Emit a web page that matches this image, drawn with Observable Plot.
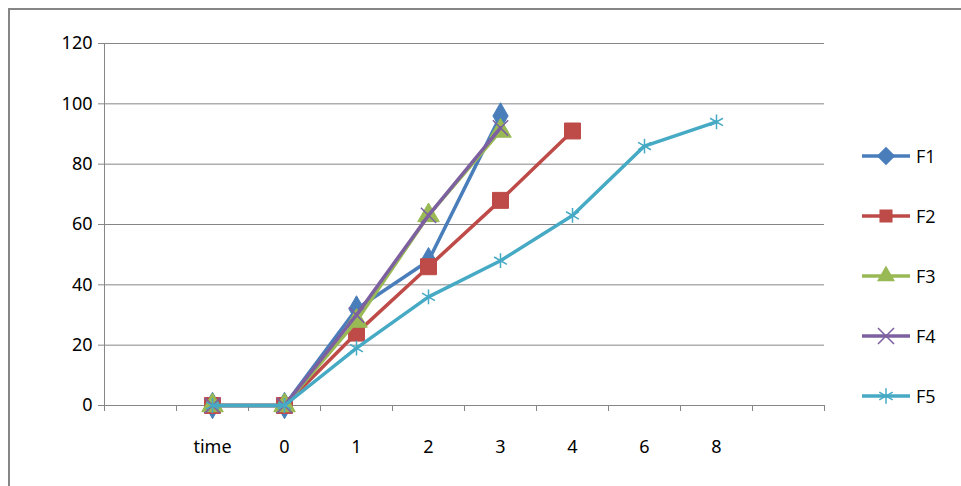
<!DOCTYPE html>
<html><head><meta charset="utf-8">
<script src="https://cdn.jsdelivr.net/npm/d3@7"></script>
<script src="https://cdn.jsdelivr.net/npm/@observablehq/plot@0.6"></script>
<style>
body{margin:0;background:#fff;font-family:"Open Sans","Liberation Sans",sans-serif;}
#wrap{position:relative;width:961px;height:486px;overflow:hidden;}
#border{position:absolute;left:8px;top:8px;width:960px;height:490px;border:2px solid #868686;box-sizing:border-box;}
#chart{position:absolute;left:0;top:0;}
#legend{position:absolute;left:860px;top:126px;font-size:18px;}
.item{display:flex;align-items:center;height:60px;}
.item span{margin-left:4px}
</style></head>
<body><div id="wrap"><div id="border"></div><div id="chart"></div><div id="legend"></div></div>
<script>
const categories = ["", "time", "0", "1", "2", "3", "4", "6", "8", ""];
const seriesNames = ["F1", "F2", "F3", "F4", "F5"];
const colors = ["#4a7ebb", "#be4b48", "#98b954", "#7d60a0", "#46aac5"];
const symbols = ["diamond", "square", "triangle", "times", "asterisk"];
const F1 = [null, 0, 0, 32, 48, 96, null, null, null, null];
const F2 = [null, 0, 0, 24, 46, 68, 91, null, null, null];
const F3 = [null, 0, 0, 28, 63, 91, null, null, null, null];
const F4 = [null, 0, 0, 30, 63, 92, null, null, null, null];
const F5 = [null, 0, 0, 19, 36, 48, 63, 86, 94, null];
const values = [F1, F2, F3, F4, F5];
const yTicks = [0, 20, 40, 60, 80, 100, 120];

const rows = [];
values.forEach((vs, s) => vs.forEach((v, i) => { if (v != null) rows.push({s: seriesNames[s], i: i + 0.5, v}); }));
const edges = d3.range(categories.length + 1);
const labels = categories.map((c, i) => ({i: i + 0.5, c})).filter(d => d.c);
const radii = [8, 9, 8, 7, 7];

const marks = [
  Plot.gridY(yTicks, {stroke: "#868686", strokeOpacity: 1}),
  Plot.ruleX([0], {stroke: "#868686"}),
  Plot.ruleY([0], {stroke: "#868686"}),
  Plot.axisY(yTicks, {tickSize: 6, tickPadding: 6, fontSize: 18, stroke: "#868686", fill: "black", label: null}),
  Plot.axisX(edges, {tickSize: 6, tickFormat: () => "", stroke: "#868686", label: null}),
  Plot.text(labels, {x: "i", y: 0, text: "c", dy: 42, fontSize: 18, fill: "black"})
];
seriesNames.forEach((name, s) => {
  const d = rows.filter(r => r.s === name);
  marks.push(Plot.line(d, {x: "i", y: "v", stroke: colors[s], strokeWidth: 3.5}));
  const filled = s < 3;
  marks.push(Plot.dot(d, {x: "i", y: "v", symbol: symbols[s], r: radii[s],
    fill: filled ? colors[s] : "none", stroke: colors[s], strokeWidth: filled ? 1 : 1.5}));
});

const chart = Plot.plot({
  width: 961, height: 486,
  marginLeft: 104, marginRight: 137, marginTop: 43, marginBottom: 81,
  x: {type: "linear", domain: [0, categories.length], axis: null},
  y: {type: "linear", domain: [0, 120], axis: null},
  style: {background: "transparent", overflow: "visible"},
  marks
});
document.getElementById("chart").append(chart);

const leg = d3.select("#legend");
seriesNames.forEach((name, s) => {
  const it = leg.append("div").attr("class", "item");
  const svg = it.append("svg").attr("width", 52).attr("height", 22);
  svg.append("line").attr("x1", 2).attr("x2", 50).attr("y1", 11).attr("y2", 11)
    .attr("stroke", colors[s]).attr("stroke-width", 3.5);
  const sym = d3.symbol({diamond: d3.symbolDiamond2, square: d3.symbolSquare2, triangle: d3.symbolTriangle2, times: d3.symbolTimes, asterisk: d3.symbolAsterisk}[symbols[s]], 170);
  const filled = s < 3;
  svg.append("path").attr("d", sym()).attr("transform", "translate(26,11)")
    .attr("fill", filled ? colors[s] : "none").attr("stroke", colors[s]).attr("stroke-width", 1.5);
  it.append("span").text(name);
});
</script></body></html>
